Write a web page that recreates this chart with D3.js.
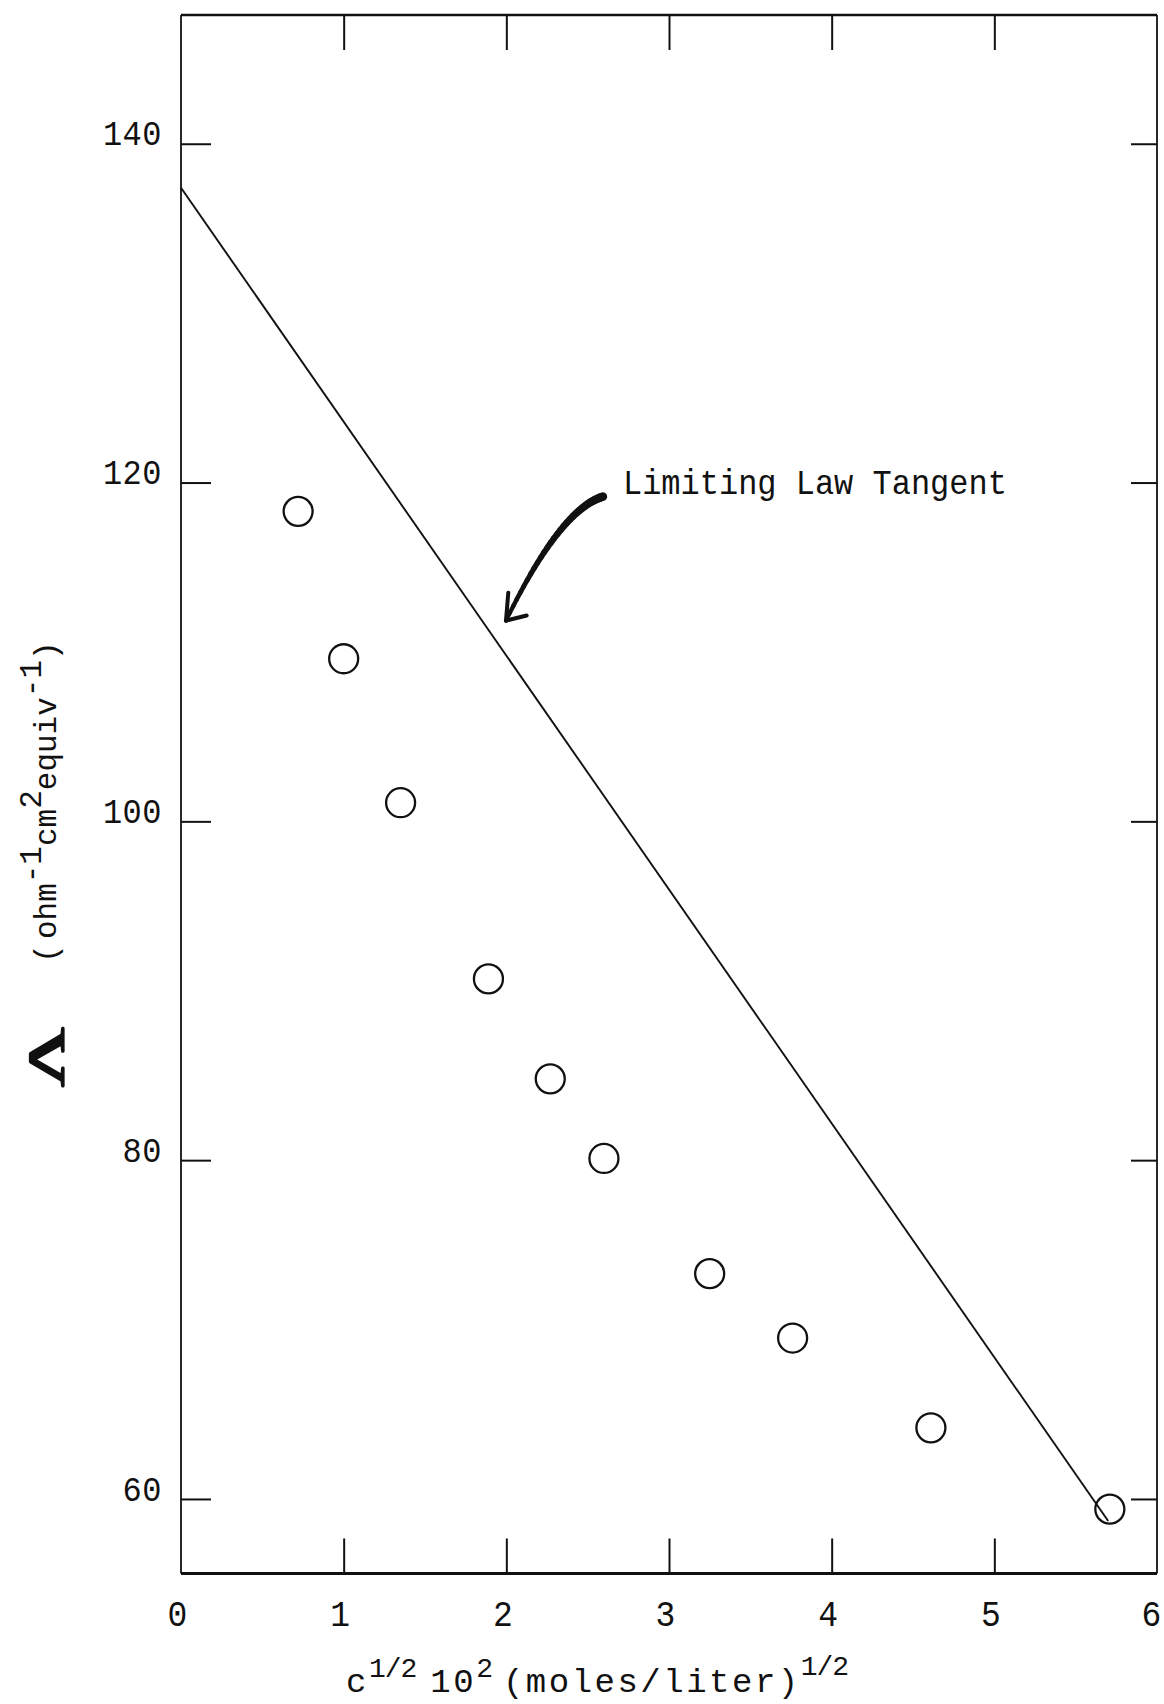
<!DOCTYPE html>
<html>
<head>
<meta charset="utf-8">
<title>Equivalent conductance vs square root of concentration</title>
<script src="https://cdn.jsdelivr.net/npm/d3@7/dist/d3.min.js"></script>
<style>
  html, body { margin: 0; padding: 0; background: #fff; }
  svg { display: block; }
  .typed { font-family: "Courier New", "Liberation Mono", monospace; fill: #111; }
</style>
</head>
<body>
<svg id="chart" width="1164" height="1704"></svg>
<script>
// Tick values on both axes
const xTicks = [0, 1, 2, 3, 4, 5, 6];
const yTicks = [60, 80, 100, 120, 140];

// Measured points: sqrt(c)·10^2 and equivalent conductance Λ
const sqrtConc = [0.72, 1.00, 1.35, 1.89, 2.27, 2.60, 3.25, 3.76, 4.61, 5.71];
const lambda   = [118.3, 109.6, 101.1, 90.7, 84.8, 80.1, 73.3, 69.5, 64.2, 59.4];

// Onsager limiting-law tangent, drawn between its two end points
const tangentX = [0, 5.70];
const tangentY = [137.4, 58.7];

// Annotation anchor points in data units (arrow tail, bend, tip, barbs; label)
const arrowPath  = [[2.594, 119.17], [2.33, 118.4], [1.998, 111.85]];
const arrowBarbs = [[2.012, 113.5], [2.125, 112.15]];
const labelAt    = [2.717, 119.3];
const labelText  = "Limiting Law Tangent";

const W = 1164, H = 1704;
const frame = { left: 181, right: 1157, top: 15, bottom: 1573.5 };

const svg = d3.select("#chart");
svg.append("rect").attr("width", W).attr("height", H).attr("fill", "#fff");

const x = d3.scaleLinear().domain([0, 6]).range([frame.left, frame.right]);
const y = d3.scaleLinear().domain([55.6, 147.6]).range([frame.bottom, frame.top]);

const ink = "#111";

// ---- axes (ticks drawn inward, frame drawn separately) ----
const leftAxis = svg.append("g")
  .attr("transform", `translate(${frame.left},0)`)
  .call(d3.axisLeft(y).tickValues(yTicks).tickSize(-30).tickPadding(19).tickFormat(d3.format("d")));

const rightAxis = svg.append("g")
  .attr("transform", `translate(${frame.right},0)`)
  .call(d3.axisRight(y).tickValues(yTicks).tickSize(-26).tickFormat(""));

const bottomAxis = svg.append("g")
  .attr("transform", `translate(0,${frame.bottom})`)
  .call(d3.axisBottom(x).tickValues(xTicks).tickSize(-35).tickFormat(d3.format("d")));

const topAxis = svg.append("g")
  .attr("transform", `translate(0,${frame.top})`)
  .call(d3.axisTop(x).tickValues(xTicks.slice(1, -1)).tickSize(-35).tickFormat(""));

[leftAxis, rightAxis, bottomAxis, topAxis].forEach(g => {
  g.select(".domain").remove();
  g.selectAll(".tick line").attr("stroke", ink).attr("stroke-width", 2);
  g.selectAll(".tick text")
    .attr("class", "typed")
    .attr("fill", ink);
});
leftAxis.selectAll(".tick text")
  .attr("font-size", 32)
  .attr("letter-spacing", 0.5)
  .attr("dy", "0.03em")
  .attr("transform", "scale(1,1.08)");
bottomAxis.selectAll(".tick text")
  .attr("font-size", 33)
  .attr("y", 0).attr("dy", 0)
  .attr("dx", d => (d === 6 ? -6 : -4))
  .attr("transform", "translate(0,52) scale(1,1.12)");
bottomAxis.selectAll(".tick line").filter(d => d === 0 || d === 6).remove();

// ---- frame ----
const fr = svg.append("g").attr("stroke", ink).attr("fill", "none");
fr.append("line").attr("x1", frame.left).attr("x2", frame.right)
  .attr("y1", frame.top).attr("y2", frame.top).attr("stroke-width", 2.6);
fr.append("line").attr("x1", frame.left).attr("x2", frame.right)
  .attr("y1", frame.bottom).attr("y2", frame.bottom).attr("stroke-width", 2.8);
fr.append("line").attr("x1", frame.left).attr("x2", frame.left)
  .attr("y1", frame.top).attr("y2", frame.bottom).attr("stroke-width", 1.8);
fr.append("line").attr("x1", frame.right).attr("x2", frame.right)
  .attr("y1", frame.top).attr("y2", frame.bottom).attr("stroke-width", 1.8);

// ---- tangent line ----
const tangent = tangentX.map((v, i) => [v, tangentY[i]]);
svg.append("path")
  .datum(tangent)
  .attr("d", d3.line().x(d => x(d[0])).y(d => y(d[1])))
  .attr("fill", "none")
  .attr("stroke", ink)
  .attr("stroke-width", 1.9);

// ---- data points (open circles) ----
const pts = sqrtConc.map((v, i) => ({ x: v, y: lambda[i] }));
svg.append("g").selectAll("circle")
  .data(pts)
  .join("circle")
  .attr("cx", d => x(d.x))
  .attr("cy", d => y(d.y))
  .attr("r", 14.5)
  .attr("fill", "none")
  .attr("stroke", ink)
  .attr("stroke-width", 2.3);

// ---- hand-drawn style arrow: tapered quadratic curve ----
const [p0, p1, p2] = arrowPath.map(p => [x(p[0]), y(p[1])]);
const N = 30;
const arrowG = svg.append("g").attr("stroke", ink).attr("stroke-linecap", "round").attr("fill", "none");
for (let i = 0; i < N; i++) {
  const seg = [i / N, (i + 1) / N].map(t => [
    (1 - t) * (1 - t) * p0[0] + 2 * (1 - t) * t * p1[0] + t * t * p2[0],
    (1 - t) * (1 - t) * p0[1] + 2 * (1 - t) * t * p1[1] + t * t * p2[1]
  ]);
  arrowG.append("line")
    .attr("x1", seg[0][0]).attr("y1", seg[0][1])
    .attr("x2", seg[1][0]).attr("y2", seg[1][1])
    .attr("stroke-width", 8.5 - 4.5 * (i / N));
}
arrowBarbs.forEach(b => {
  arrowG.append("line")
    .attr("x1", p2[0]).attr("y1", p2[1])
    .attr("x2", x(b[0])).attr("y2", y(b[1]))
    .attr("stroke-width", 4);
});

svg.append("text")
  .attr("class", "typed")
  .attr("transform", `translate(${x(labelAt[0])},${y(labelAt[1])}) scale(1,1.1)`)
  .attr("font-size", 32)
  .text(labelText);

// ---- x-axis title: c^(1/2) 10^2 (moles/liter)^(1/2) ----
const xt = svg.append("text")
  .attr("class", "typed")
  .attr("x", 346)
  .attr("y", 1692)
  .attr("font-size", 34)
  .attr("letter-spacing", 2.5);
xt.append("tspan").text("c");
xt.append("tspan").attr("dy", -15).attr("font-size", 28).attr("letter-spacing", -1).text("1/2");
xt.append("tspan").attr("dy", 15).attr("dx", 14).text("10");
xt.append("tspan").attr("dy", -15).attr("font-size", 28).attr("letter-spacing", 0).text("2");
xt.append("tspan").attr("dy", 15).attr("dx", 10).text("(moles/liter)");
xt.append("tspan").attr("dy", -17).attr("font-size", 28).attr("letter-spacing", -1).text("1/2");

// ---- y-axis title: Λ (ohm^-1 cm^2 equiv^-1), rotated ----
svg.append("text")
  .attr("transform", "translate(63,1057) rotate(-90) scale(1.45,0.92)")
  .attr("text-anchor", "middle")
  .attr("font-family", "Liberation Serif, DejaVu Serif, serif")
  .attr("font-size", 56)
  .attr("fill", ink)
  .attr("stroke", ink)
  .attr("stroke-width", 2.5)
  .attr("stroke-linejoin", "round")
  .text("Λ");

const yt = svg.append("text")
  .attr("class", "typed")
  .attr("transform", "translate(56,802) rotate(-90)")
  .attr("text-anchor", "middle")
  .attr("font-size", 31);
yt.append("tspan").text("(");
yt.append("tspan").attr("dx", 5).text("ohm");
yt.append("tspan").attr("dy", -15).text("-1");
yt.append("tspan").attr("dy", 15).text("cm");
yt.append("tspan").attr("dy", -15).text("2");
yt.append("tspan").attr("dy", 15).text("equiv");
yt.append("tspan").attr("dy", -15).text("-1");
yt.append("tspan").attr("dy", 15).text(")");
</script>
</body>
</html>
